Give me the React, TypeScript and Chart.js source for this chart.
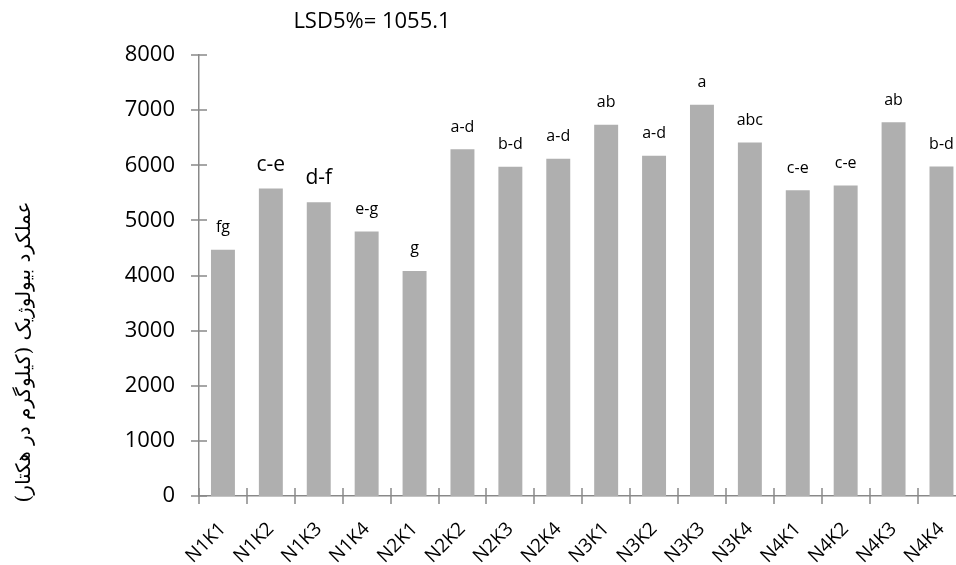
import { useEffect, useRef } from 'react';
import { Chart, registerables } from 'chart.js';

Chart.register(...registerables);

// ---- data ----
const categories = ['N1K1', 'N1K2', 'N1K3', 'N1K4', 'N2K1', 'N2K2', 'N2K3', 'N2K4', 'N3K1', 'N3K2', 'N3K3', 'N3K4', 'N4K1', 'N4K2', 'N4K3', 'N4K4'];
const biomassValues = [4465, 5577, 5330, 4797, 4083, 6292, 5971, 6116, 6733, 6171, 7096, 6412, 5548, 5632, 6782, 5976];
const significanceLetters = ['fg', 'c-e', 'd-f', 'e-g', 'g', 'a-d', 'b-d', 'a-d', 'ab', 'a-d', 'a', 'abc', 'c-e', 'c-e', 'ab', 'b-d'];
const yTickValues = [0, 1000, 2000, 3000, 4000, 5000, 6000, 7000, 8000];
const chartTitle = 'LSD5%= 1055.1';
const yAxisTitle = 'عملکرد بیولوژیک (کیلوگرم در هکتار)';

// ---- style ----
const CANVAS_W = 980;
const CANVAS_H = 565;
const FONT = '"Open Sans", "Liberation Sans", sans-serif';
const AXIS_COLOR = '#898989';
const BAR_COLOR = '#AFAFAF';
const LARGE_LETTER_INDEXES = [1, 2];

const decorPlugin = {
  id: 'decor',
  afterDraw(chart: any) {
    const { ctx, scales } = chart;
    const x = scales.x;
    const y = scales.y;
    const area = chart.chartArea;
    ctx.save();

    // cross tick marks
    ctx.strokeStyle = AXIS_COLOR;
    ctx.lineWidth = 1.5;
    ctx.beginPath();
    yTickValues.forEach((v) => {
      const py = Math.round(y.getPixelForValue(v));
      ctx.moveTo(area.left - 8, py);
      ctx.lineTo(area.left + 8, py);
    });
    for (let i = 0; i <= categories.length; i++) {
      const px = Math.round(x.getPixelForValue(i - 0.5));
      ctx.moveTo(px, area.bottom - 8);
      ctx.lineTo(px, area.bottom + 8);
    }
    ctx.stroke();

    // significance letters
    const meta = chart.getDatasetMeta(0);
    ctx.fillStyle = '#000';
    ctx.textAlign = 'center';
    ctx.textBaseline = 'middle';
    meta.data.forEach((bar: any, i: number) => {
      const big = LARGE_LETTER_INDEXES.includes(i);
      ctx.font = `${big ? 21 : 16}px ${FONT}`;
      ctx.fillText(significanceLetters[i], bar.x, bar.y - (big ? 24 : 22));
    });

    // title
    ctx.font = `22px ${FONT}`;
    ctx.fillText(chartTitle, 372, 22);

    // y axis title (rotated)
    ctx.translate(25, 352);
    ctx.rotate(-Math.PI / 2);
    ctx.direction = 'rtl';
    ctx.textAlign = 'center';
    ctx.font = '20px "DejaVu Serif", "DejaVu Sans", serif';
    ctx.fillText(yAxisTitle, 0, 0);

    ctx.restore();
  },
};

export default function App() {
  const canvasRef = useRef<HTMLCanvasElement | null>(null);

  useEffect(() => {
    const canvas = canvasRef.current;
    if (!canvas) return;
    const chart = new Chart(canvas, {
      type: 'bar',
      data: {
        labels: categories,
        datasets: [
          {
            data: biomassValues,
            backgroundColor: BAR_COLOR,
            borderWidth: 0,
            barPercentage: 0.5,
            categoryPercentage: 1,
          },
        ],
      },
      options: {
        responsive: false,
        animation: false,
        devicePixelRatio: 1,
        layout: { padding: { top: 55, left: 0, right: 13, bottom: 0 } },
        plugins: {
          legend: { display: false },
          tooltip: { enabled: false },
          title: { display: false },
        },
        scales: {
          x: {
            grid: { display: false, drawTicks: false },
            border: { display: true, color: AXIS_COLOR, width: 1.5 },
            ticks: {
              color: '#000',
              font: { family: FONT, size: 19 },
              minRotation: 45,
              maxRotation: 45,
              padding: 22,
              autoSkip: false,
            },
            afterFit: (s: any) => {
              s.height = 69;
            },
          },
          y: {
            min: 0,
            max: 8000,
            grid: { display: false, drawTicks: false },
            border: { display: true, color: AXIS_COLOR, width: 1.5 },
            ticks: {
              color: '#000',
              font: { family: FONT, size: 22 },
              padding: 24,
              callback: (v: any) => String(v),
            },
            afterBuildTicks: (s: any) => {
              s.ticks = yTickValues.map((v) => ({ value: v }));
            },
            afterFit: (s: any) => {
              s.width = 199;
            },
          },
        },
      },
      plugins: [decorPlugin],
    });
    return () => chart.destroy();
  }, []);

  return (
    <div style={{ position: 'fixed', left: 0, top: 0, width: 956, height: 565, overflow: 'hidden', background: '#fff' }}>
      <canvas ref={canvasRef} width={CANVAS_W} height={CANVAS_H} style={{ display: 'block', width: CANVAS_W, height: CANVAS_H }} />
    </div>
  );
}
